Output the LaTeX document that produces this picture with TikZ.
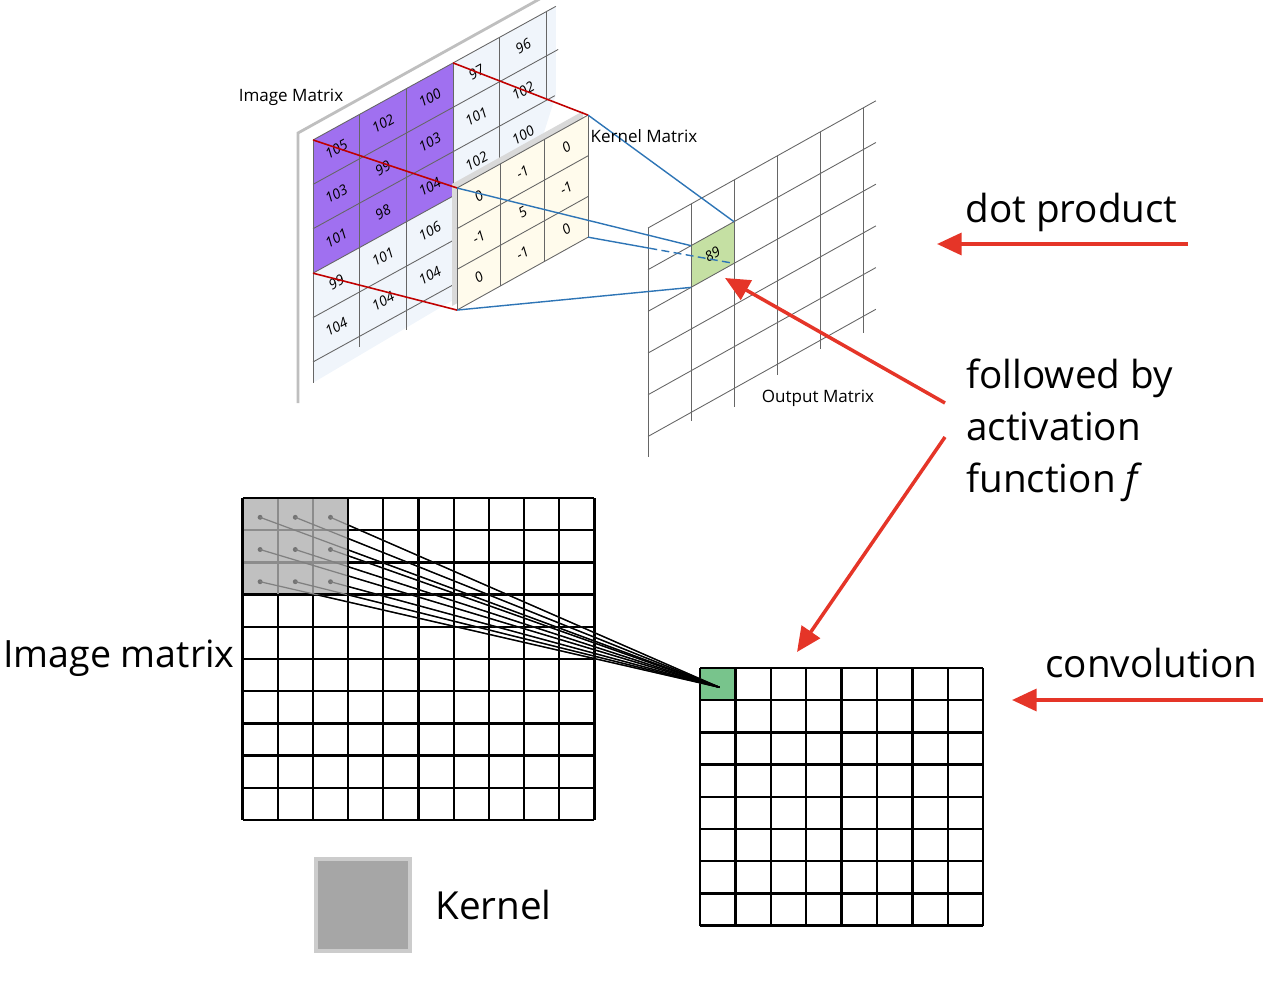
\documentclass[tikz,border=0pt]{standalone}
\usepackage{fontspec}
\setmainfont{Open Sans}
\usetikzlibrary{arrows.meta}
\definecolor{redarrow}{RGB}{229,53,40}
\definecolor{darkred}{RGB}{192,0,0}
\definecolor{lineblue}{RGB}{46,117,182}
\definecolor{purplecell}{RGB}{160,112,240}
\definecolor{cellblue}{RGB}{240,245,251}
\definecolor{kernelcream}{RGB}{255,251,236}
\definecolor{outgreen}{RGB}{197,224,163}
\definecolor{convgreen}{RGB}{120,196,140}
\definecolor{kernelgray}{RGB}{192,192,192}
\definecolor{legendgray}{RGB}{166,166,166}
\begin{document}
\begin{tikzpicture}[x=0.02cm,y=-0.02cm,
  bigtext/.style={font=\fontsize{22}{26}\selectfont,inner sep=0pt},
  smalltext/.style={font=\fontsize{9.7}{12}\selectfont,inner sep=0pt},
  numtext/.style={font=\fontsize{8}{9}\selectfont\itshape,inner sep=0pt,rotate=29},
  thingrid/.style={draw=black!60,line width=0.5pt},
  thickgrid/.style={draw=black,line width=1.3pt},
  redline/.style={darkred,line width=0.9pt},
  blueline/.style={lineblue,line width=0.8pt},
  bigarrow/.style={redarrow,line width=2pt,-{Triangle[length=14pt,width=12.5pt]}}]
\useasboundingbox (0,0) rectangle (1280,1000);

% image matrix panel
\draw[black!25,line width=1.6pt] (298,403) -- (298,133) -- (545,-4);

% image matrix
\begin{scope}[shift={(313,140)},x={(0.934cm,0.514cm)},y={(0cm,-0.888cm)}]
\fill[cellblue] (0,0) -- (5.2,0) -- (5.2,2) -- (4,5.3) -- (0,5.47) -- cycle;
\fill[purplecell] (0,0) -- (3,0) -- (3,3) -- (0,3) -- cycle;
\foreach \j/\e in {0/5.2,1/5.25,2/5.18,3/5,4/5,5/4.9}
    \draw[thingrid] (0,\j) -- (\e,\j);
\foreach \i/\e in {0/5.47,1/5.24,2/5.44,3/5.27,4/5.3,5/1.95}
    \draw[thingrid] (\i,0) -- (\i,\e);
\foreach \i/\j/\v in {0/0/105,0/1/103,0/2/101,0/3/99,0/4/104,
                      1/0/102,1/1/99,1/2/98,1/3/101,1/4/104,
                      2/0/100,2/1/103,2/2/104,2/3/106,2/4/104,
                      3/0/97,3/1/101,3/2/102,4/0/96,4/1/102,4/2/100}
    \node[numtext] at (\i+0.5,\j+0.5) {\v};
\coordinate (img-tl) at (0,0);
\coordinate (img-tr) at (3,0);
\coordinate (img-bl) at (0,3);
\end{scope}

% kernel matrix
\begin{scope}[shift={(457,188)},x={(0.874cm,0.486cm)},y={(0cm,-0.814cm)}]
\begin{scope}[shift={(-0.1cm,0.08cm)}]
\fill[black!15] (0,0) -- (3,0) -- (3,3) -- (0,3) -- cycle;
\end{scope}
\fill[kernelcream] (0,0) -- (3,0) -- (3,3) -- (0,3) -- cycle;
\foreach \k in {0,...,3}
{
    \draw[thingrid] (\k,0) -- (\k,3);
    \draw[thingrid] (0,\k) -- (3,\k);
}
\foreach \i/\j/\v in {0/0/0,1/0/-1,2/0/0,0/1/-1,1/1/5,2/1/-1,0/2/0,1/2/-1,2/2/0}
    \node[numtext] at (\i+0.5,\j+0.5) {\v};
\coordinate (ker-tl) at (0,0);
\coordinate (ker-tr) at (3,0);
\coordinate (ker-bl) at (0,3);
\coordinate (ker-br) at (3,3);
\end{scope}

% output matrix
\begin{scope}[shift={(648,228)},x={(0.86cm,0.48cm)},y={(0cm,-0.834cm)}]
\fill[outgreen] (1,1) -- (2,1) -- (2,2) -- (1,2) -- cycle;
\foreach \j in {0,...,5}
    \draw[thingrid] (0,\j) -- (5.3,\j);
\foreach \i/\e in {0/5.5,1/5.2,2/5.45,3/5.25,4/5.2,5/5.4}
    \draw[thingrid] (\i,0) -- (\i,\e);
\node[numtext] (val) at (1.5,1.5) {89};
\coordinate (out-tl) at (1,1);
\coordinate (out-tr) at (2,1);
\coordinate (out-bl) at (1,2);
\coordinate (out-br) at (2,2);
\end{scope}

\draw[redline] (img-tl) -- (ker-tl);
\draw[redline] (img-tr) -- (ker-tr);
\draw[redline] (img-bl) -- (ker-bl);
\draw[blueline] (ker-tr) -- (out-tr);
\draw[blueline] (ker-tl) -- (out-tl);
\draw[blueline] (ker-bl) -- (out-bl);
\path (ker-br) -- (out-br) coordinate[pos=0.42] (hid);
\draw[blueline] (ker-br) -- (hid);
\draw[blueline,dash pattern=on 4.5pt off 2.5pt] (hid) -- (out-br);

\node[smalltext] (imglabel) at (291,97) {Image Matrix};
\node[smalltext] (kerlabel) at (644,136) {Kernel Matrix};
\node[smalltext] (outlabel) at (818,398) {Output Matrix};

% convolution grids
\begin{scope}[shift={(242.5,498)},x=0.704cm,y=-0.644cm]
\fill[kernelgray] (0,0) rectangle (3,3);
\foreach \k in {0,...,10}
{
    \draw[thickgrid] (\k,0) -- (\k,10);
    \draw[thickgrid] (0,\k) -- (10,\k);
}
\foreach \k in {1,2}
{
    \draw[black!45,line width=1.3pt] (\k,0.03) -- (\k,2.97);
    \draw[black!45,line width=1.3pt] (0.03,\k) -- (2.97,\k);
}
\foreach \i in {0,1,2}
\foreach \j in {0,1,2}
{
    \coordinate (k\i\j) at (\i+0.5,\j+0.6);
    \fill[black!55] (k\i\j) circle (1.4pt);
}
\end{scope}

\begin{scope}[shift={(700,668)},x=0.708cm,y=-0.644cm]
\fill[convgreen] (0,0) rectangle (1,1);
\foreach \k in {0,...,8}
{
    \draw[thickgrid] (\k,0) -- (\k,8);
    \draw[thickgrid] (0,\k) -- (8,\k);
}
\coordinate (conv-t) at (0.55,0.6);
\end{scope}

\foreach \i in {0,1,2}
\foreach \j in {0,1,2}
    \draw[black!50,line width=0.7pt] (k\i\j) -- (conv-t);
\begin{scope}
\clip (347,595) -- (347,-10) -- (1290,-10) -- (1290,1010) -- (-10,1010) -- (-10,595) -- cycle;
\foreach \i in {0,1,2}
\foreach \j in {0,1,2}
    \draw[black,line width=0.8pt] (k\i\j) -- (conv-t);
\end{scope}

% legend
\node[fill=legendgray,draw=black!20,line width=2pt,minimum width=1.88cm,minimum height=1.84cm,inner sep=0pt] (legend) at (363,905) {};
\node[bigtext,anchor=base west] (kern) at (435,919) {Kernel};
\node[bigtext,font=\fontsize{21.4}{26}\selectfont,anchor=base east] (imgm) at (235,667) {Image matrix};

% right hand labels
\node[bigtext,anchor=base west] (dot) at (965,222) {dot product};
\node[bigtext,anchor=base west] (act1) at (966,388) {followed by};
\node[bigtext,anchor=base west] (act2) at (966,440) {activation};
\node[bigtext,anchor=base west] (act3) at (966,492) {function \textit{f}};
\node[bigtext,anchor=base west] (conv) at (1045,677) {convolution};

\coordinate (dp-tail) at (1188,244);
\coordinate (dp-head) at (937,244);
\coordinate (cv-tail) at (1263,700);
\coordinate (cv-head) at (1012,700);
\coordinate (af-tail) at (945,403);
\coordinate (af-head) at (725,278);
\coordinate (ag-tail) at (945,437);
\coordinate (ag-head) at (797,652);
\draw[bigarrow] (dp-tail) -- (dp-head);
\draw[bigarrow] (cv-tail) -- (cv-head);
\draw[bigarrow] (af-tail) -- (af-head);
\draw[bigarrow] (ag-tail) -- (ag-head);

\end{tikzpicture}
\end{document}
